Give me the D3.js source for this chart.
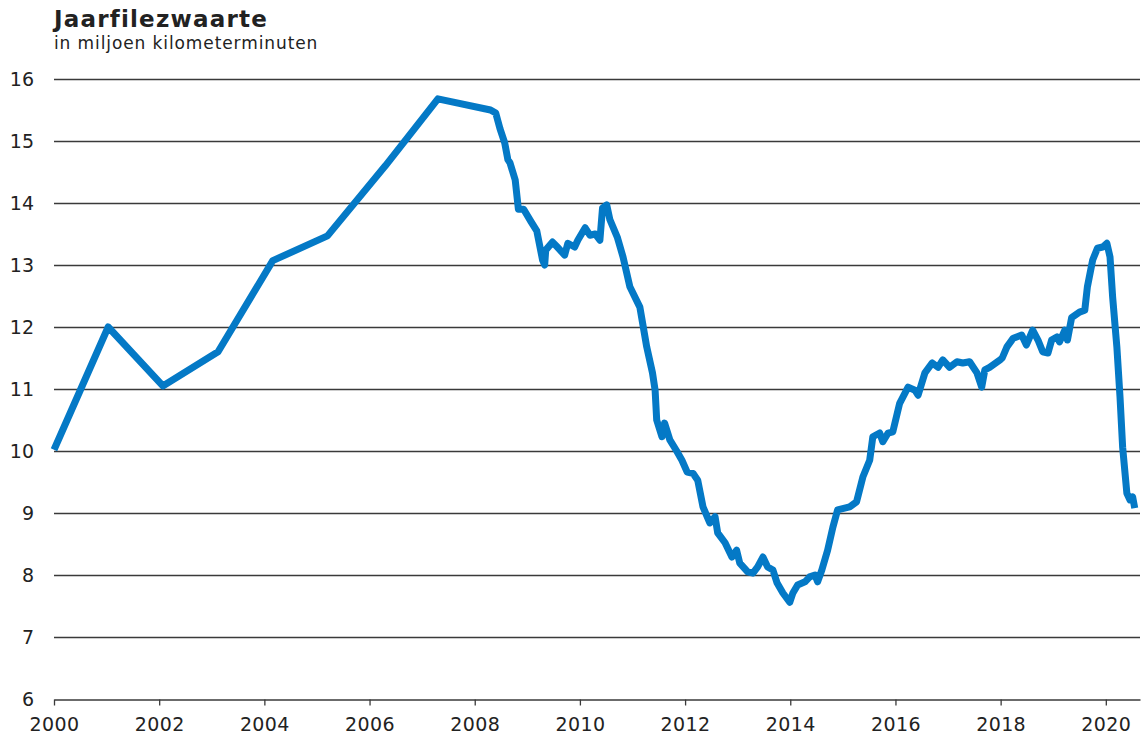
<!DOCTYPE html>
<html lang="nl">
<head>
  <meta charset="utf-8">
  <title>Jaarfilezwaarte</title>
  <style>
    body { margin: 0; background: #fff; }
    text { font-family: "DejaVu Sans", Verdana, sans-serif; fill: #222; }
  </style>
</head>
<body>
  <script src="https://d3js.org/d3.v7.min.js"></script>
  <svg></svg>
  <script>

// Decimal years and values (million kilometre-minutes)
var years = [2000.0, 2001.03, 2002.07, 2003.12, 2004.16, 2005.2, 2006.3, 2007.3, 2008.3,
  2008.4, 2008.48, 2008.57, 2008.63, 2008.67, 2008.77, 2008.83, 2008.93, 2009.07, 2009.18, 2009.29,
  2009.33, 2009.35, 2009.48, 2009.57, 2009.71, 2009.77, 2009.9, 2009.96, 2010.1, 2010.19, 2010.29,
  2010.38, 2010.43, 2010.51, 2010.57, 2010.71, 2010.82, 2010.95,
  2011.14, 2011.27, 2011.38, 2011.43, 2011.46, 2011.56, 2011.61, 2011.71, 2011.84, 2011.94, 2012.04,
  2012.15, 2012.24, 2012.34, 2012.47, 2012.57, 2012.62, 2012.76, 2012.89, 2012.98, 2013.04, 2013.19,
  2013.29, 2013.38, 2013.48, 2013.57, 2013.67, 2013.75, 2013.86, 2013.99, 2014.05, 2014.14, 2014.28,
  2014.37, 2014.47, 2014.52, 2014.6, 2014.71, 2014.81, 2014.9,
  2015.13, 2015.26, 2015.38, 2015.51, 2015.57, 2015.7, 2015.76, 2015.86, 2015.95, 2016.08, 2016.24,
  2016.37, 2016.43, 2016.56, 2016.7, 2016.81, 2016.9, 2017.03, 2017.17, 2017.28, 2017.41, 2017.55,
  2017.64, 2017.7, 2017.79, 2017.99, 2018.03, 2018.12, 2018.24, 2018.4, 2018.49, 2018.61, 2018.71,
  2018.8, 2018.9, 2018.97, 2019.07, 2019.12, 2019.22, 2019.27, 2019.35, 2019.5, 2019.6, 2019.65,
  2019.75, 2019.84, 2019.94, 2020.02, 2020.08, 2020.13, 2020.21, 2020.27, 2020.32, 2020.4, 2020.46,
  2020.51, 2020.55];
var values = [10.02, 12.0, 11.05, 11.6, 13.07, 13.47, 14.6, 15.68, 15.5,
  15.45, 15.2, 14.97, 14.7, 14.65, 14.37, 13.9, 13.9, 13.7, 13.55, 13.08,
  13.0, 13.24, 13.37, 13.29, 13.16, 13.35, 13.29, 13.4, 13.6, 13.48, 13.5,
  13.4, 13.92, 13.97, 13.73, 13.45, 13.13, 12.65,
  12.32, 11.68, 11.26, 10.98, 10.5, 10.23, 10.45, 10.18, 10.0, 9.85, 9.66,
  9.64, 9.53, 9.1, 8.84, 8.94, 8.68, 8.52, 8.29, 8.4, 8.19, 8.05,
  8.03, 8.13, 8.29, 8.13, 8.08, 7.87, 7.71, 7.56, 7.71, 7.84, 7.89,
  7.97, 8.0, 7.89, 8.08, 8.4, 8.77, 9.05,
  9.1, 9.18, 9.58, 9.85, 10.23, 10.29, 10.15, 10.29, 10.31, 10.77, 11.03,
  10.98, 10.9, 11.26, 11.42, 11.35, 11.47, 11.35, 11.44, 11.42, 11.44, 11.26,
  11.03, 11.31, 11.35, 11.47, 11.5, 11.68, 11.82, 11.87, 11.71, 11.95, 11.79,
  11.6, 11.58, 11.79, 11.84, 11.76, 11.95, 11.79, 12.15, 12.24, 12.27, 12.65,
  13.08, 13.27, 13.29, 13.35, 13.13, 12.48, 11.68, 10.87, 10.06, 9.32, 9.21,
  9.26, 9.08];

var yTicks = [6, 7, 8, 9, 10, 11, 12, 13, 14, 15, 16];
var xTicks = [2000, 2002, 2004, 2006, 2008, 2010, 2012, 2014, 2016, 2018, 2020];

var title = "Jaarfilezwaarte";
var subtitle = "in miljoen kilometerminuten";

var width = 1143, height = 738;
var margins = {top: 79, right: 3, bottom: 39, left: 54};

var svg = d3.select('svg')
            .attr('width', width)
            .attr('height', height);

var xScale = d3.scaleLinear()
               .domain([2000, 2020.65])
               .range([margins.left, width - margins.right]);

var yScale = d3.scaleLinear()
               .domain([6, 16])
               .range([height - margins.bottom, margins.top]);

// horizontal gridlines (skip the bottom one, that is the axis)
svg.append('g')
   .selectAll('line')
   .data(yTicks.filter(function(d) { return d > 6; }))
   .enter()
   .append('line')
   .attr('x1', margins.left)
   .attr('x2', width - margins.right)
   .attr('y1', function(d) { return yScale(d) + 0.5; })
   .attr('y2', function(d) { return yScale(d) + 0.5; })
   .attr('stroke', '#3a3a3a')
   .attr('stroke-width', 1.3);

// y labels
svg.append('g')
   .selectAll('text')
   .data(yTicks)
   .enter()
   .append('text')
   .attr('x', 34)
   .attr('y', function(d) { return yScale(d); })
   .attr('dy', '0.37em')
   .attr('text-anchor', 'end')
   .attr('font-size', '19px')
   .text(function(d) { return d; });

// x axis
var xAxis = svg.append('g')
   .attr('transform', 'translate(0,' + (yScale(6) + 0.5) + ')')
   .call(d3.axisBottom(xScale).tickValues(xTicks).tickFormat(d3.format('d')).tickSize(6).tickSizeOuter(0).tickPadding(12));
xAxis.select('.domain').attr('stroke', '#3a3a3a').attr('stroke-width', 1.3);
xAxis.selectAll('.tick line').attr('stroke', '#3a3a3a').attr('stroke-width', 1.3);
xAxis.selectAll('.tick text')
     .attr('font-size', '19px')
     .attr('letter-spacing', '0.4px')
     .attr('font-family', '"DejaVu Sans", Verdana, sans-serif')
     .attr('fill', '#222');

// the line
var line = d3.line()
   .x(function(d, i) { return xScale(years[i]); })
   .y(function(d) { return yScale(d); });

svg.append('path')
   .datum(values)
   .attr('d', line)
   .attr('fill', 'none')
   .attr('stroke', '#0479c6')
   .attr('stroke-width', 7)
   .attr('stroke-linejoin', 'round')
   .attr('stroke-linecap', 'butt');

// title and subtitle
svg.append('text')
   .attr('x', 54)
   .attr('y', 27)
   .attr('font-size', '23px')
   .attr('font-weight', 'bold')
   .attr('letter-spacing', '1.2px')
   .attr('fill', '#111')
   .text(title);

svg.append('text')
   .attr('x', 54)
   .attr('y', 49)
   .attr('font-size', '17px')
   .attr('letter-spacing', '0.9px')
   .text(subtitle);

  </script>
</body>
</html>
